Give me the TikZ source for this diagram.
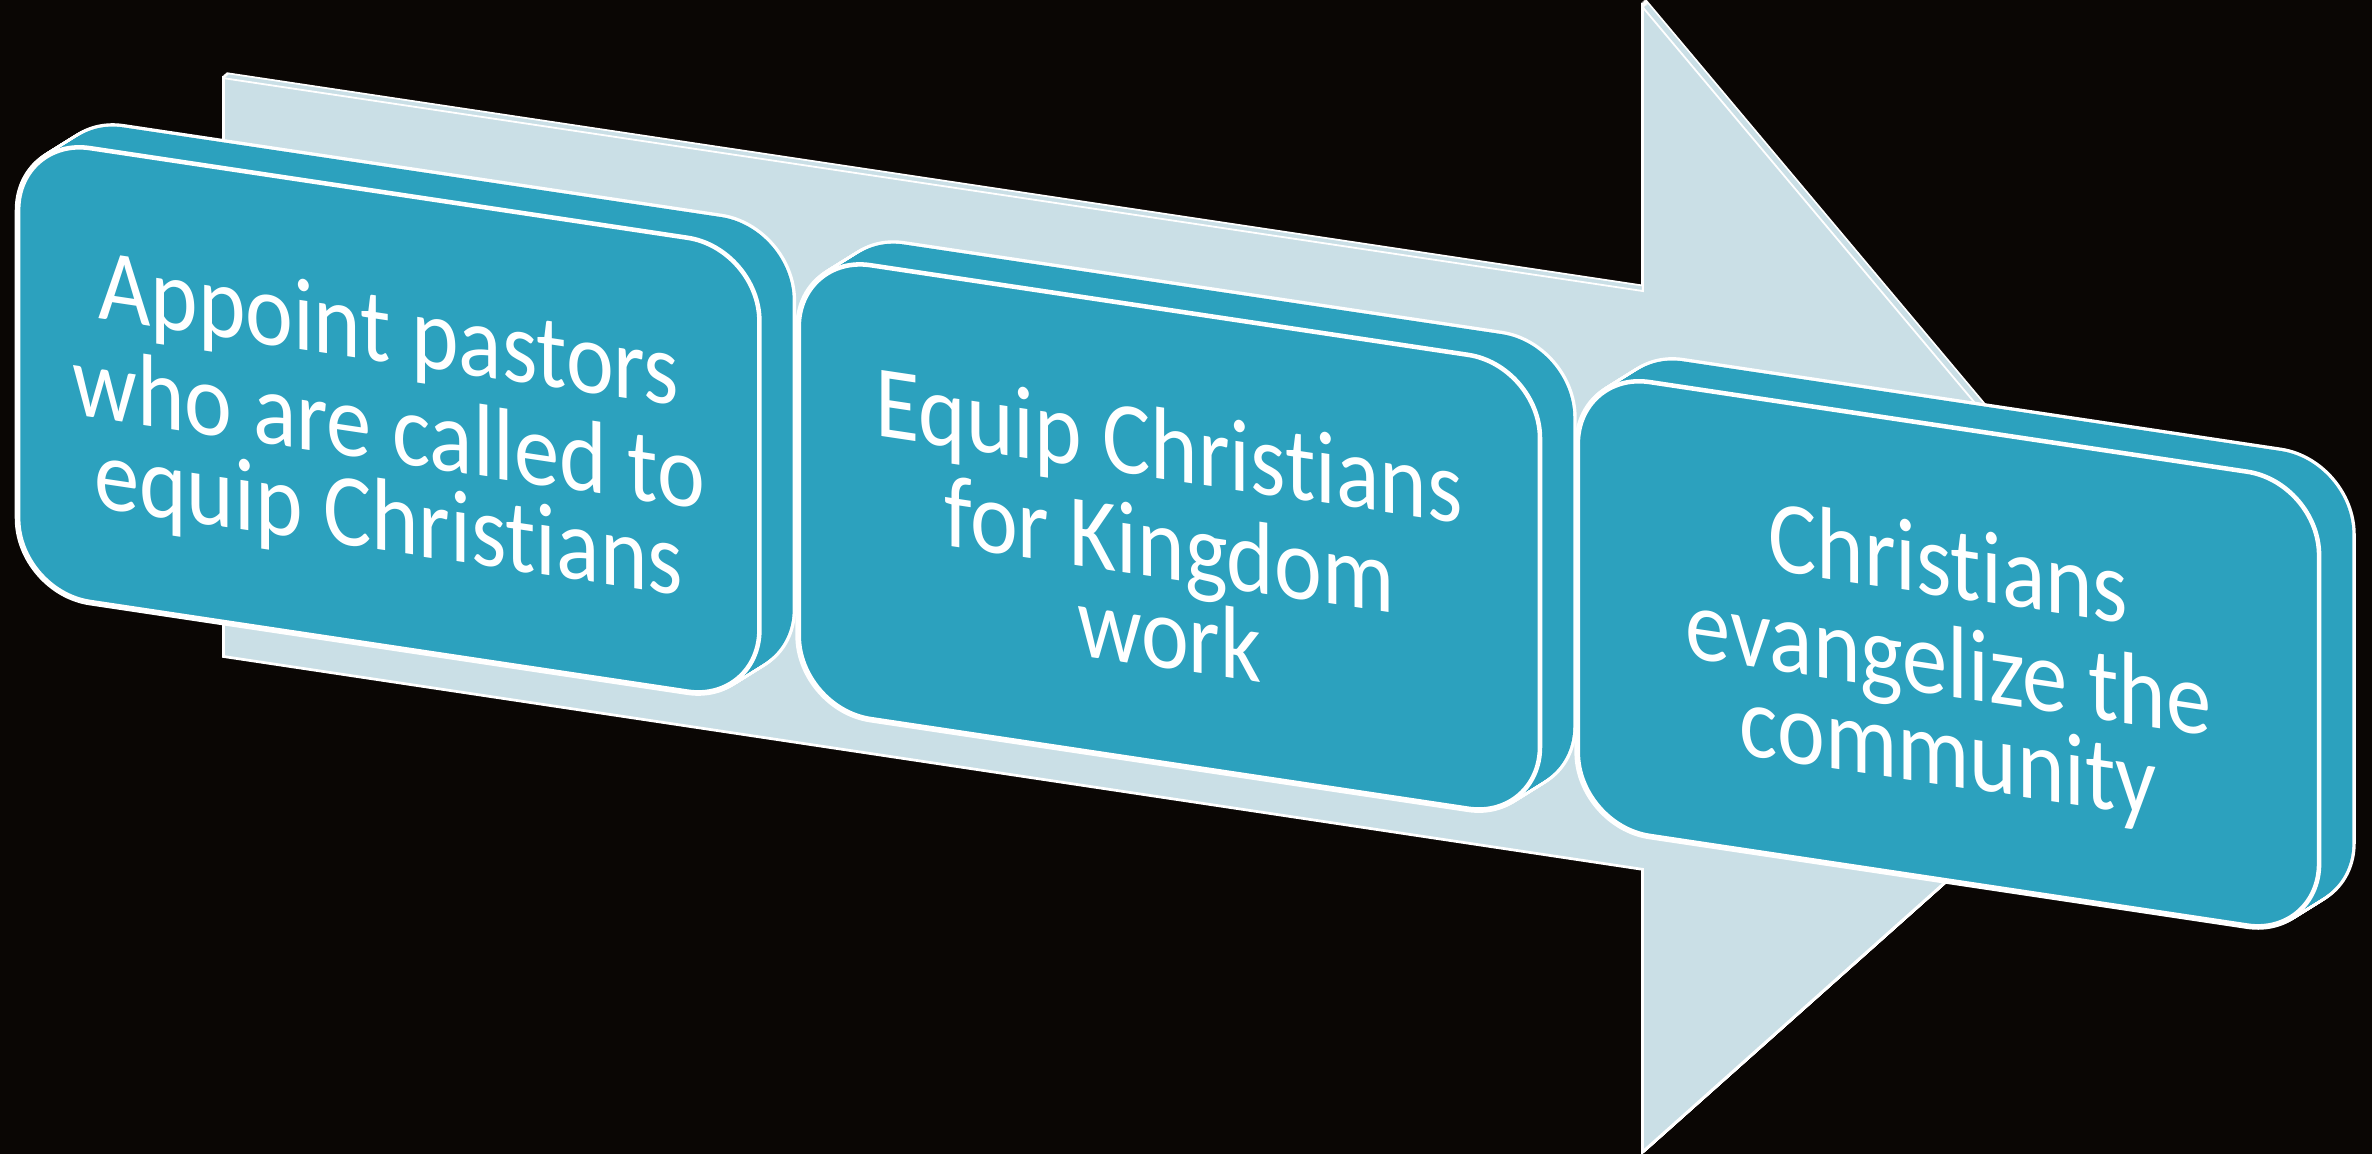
\documentclass[tikz,border=0pt]{standalone}
\usepackage{fontspec}
\setmainfont[FakeStretch=0.88,Ligatures={NoCommon}]{Carlito}
\definecolor{bg}{RGB}{10,6,4}
\definecolor{boxc}{RGB}{44,161,190}
\definecolor{arrc}{RGB}{202,223,230}
\newcommand\arrowp[1]{\path[#1] (148,29.5) -- (1086,29.5) -- (1086,-158) -- (1449,220) -- (1086,598) -- (1086,411.5) -- (148,411.5) -- cycle;}
\newcommand\boxp[2]{\path[#2, rounded corners=48pt] (#1,89) rectangle ++(490,300);}
\tikzset{
  txt/.style={transform shape, align=center, text=white, inner sep=0pt,
    font=\fontsize{68}{59}\selectfont}
}
\begin{document}
\begin{tikzpicture}[x=1pt,y=-1pt]
\fill[bg] (0,0) rectangle (1568,763);
\useasboundingbox (0,0) rectangle (1568,763);
\begin{scope}[yslant=-0.15]
  % arrow with thin depth
  \foreach \k in {0,0.5,...,3}{
    \begin{scope}[shift={(\k,-\k)}]\arrowp{draw=white,line width=2.4pt,fill=white}\end{scope}}
  \foreach \k in {0,0.5,...,3}{
    \begin{scope}[shift={(\k,-\k)}]\arrowp{fill=arrc}\end{scope}}
  \arrowp{draw=white,line width=1.2pt,fill=arrc}
  % boxes with depth
  \foreach \bx in {12,528,1043}{
    \foreach \k in {0,...,24}{
      \begin{scope}[shift={({22*\k/24},{-17*\k/24})}]\boxp{\bx}{draw=white,line width=4.5pt,fill=white}\end{scope}}
    \foreach \k in {0,...,24}{
      \begin{scope}[shift={({22*\k/24},{-17*\k/24})}]\boxp{\bx}{fill=boxc}\end{scope}}
    \boxp{\bx}{draw=white,line width=3pt,fill=boxc}
  }
  \node[txt] (t1) at (257,249) {\strut Appoint pastors\\who are called to\\equip Christians\strut};
  \node[txt] (t2) at (773,249) {\strut Equip Christians\\for Kingdom\\work\strut};
  \node[txt] (t3) at (1288,249) {\strut Christians\\evangelize the\\community\strut};
\end{scope}
\end{tikzpicture}
\end{document}
